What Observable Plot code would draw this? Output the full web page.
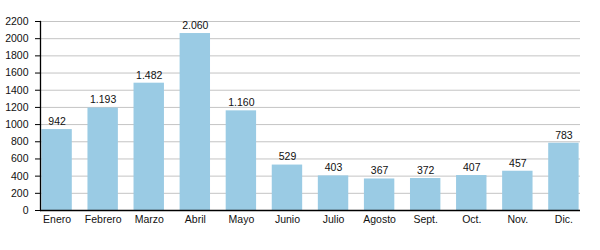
<!DOCTYPE html>
<html><head><meta charset="utf-8">
<script src="https://cdn.jsdelivr.net/npm/d3@7"></script>
<script src="https://cdn.jsdelivr.net/npm/@observablehq/plot@0.6"></script>
<style>body{margin:0;background:#fff}</style>
</head><body><div id="chart"></div>
<script>
const months = ["Enero","Febrero","Marzo","Abril","Mayo","Junio","Julio","Agosto","Sept.","Oct.","Nov.","Dic."];
const values = [942,1193,1482,2060,1160,529,403,367,372,407,457,783];
const yTicks = [0,200,400,600,800,1000,1200,1400,1600,1800,2000,2200];
const data = months.map((m,i)=>({m, v: values[i]}));
const fmt = v => v >= 1000 ? Math.floor(v/1000) + "." + String(v%1000).padStart(3,"0") : String(v);
const chart = Plot.plot({
  width: 600, height: 250,
  marginLeft: 40, marginRight: 20, marginTop: 21, marginBottom: 40,
  style: {fontFamily: "'Liberation Sans', Arial, sans-serif", fontSize: "10.5px", color: "#111"},
  x: {domain: months, paddingInner: 0.34, paddingOuter: 0.03, round: false, label: null},
  y: {domain: [0,2200], label: null},
  marks: [
    Plot.gridY(yTicks.filter(d=>d>0), {stroke: "#c4c4c4", strokeOpacity: 1}),
    Plot.barY(data, {x: "m", y: "v", fill: "#9acbe4"}),
    Plot.text(data, {x: "m", y: "v", text: d => fmt(d.v), dy: -8, fill: "#111", fontSize: 10.5}),
    Plot.ruleY([0], {stroke: "#000", strokeWidth: 1.3}),
    Plot.frame({anchor: "left", stroke: "#000", strokeWidth: 1.3}),
    Plot.axisY({ticks: yTicks, tickFormat: d => String(d), tickSize: 5, tickPadding: 7, label: null, stroke: "#000"}),
    Plot.axisX({tickSize: 0, tickPadding: 5, label: null})
  ]
});
document.getElementById("chart").append(chart);
</script></body></html>
